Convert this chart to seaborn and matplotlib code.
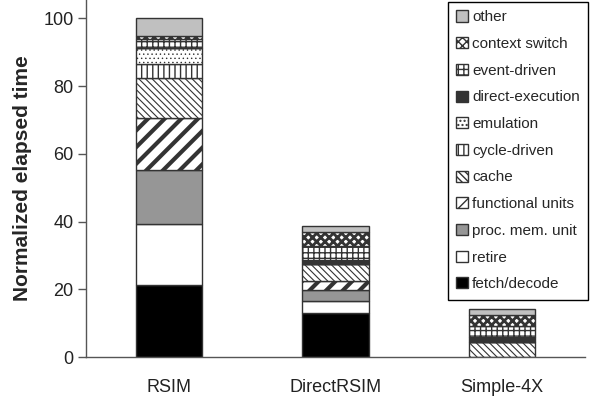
import matplotlib
matplotlib.use("Agg")
import matplotlib.pyplot as plt
import seaborn as sns
import numpy as np

categories = ["RSIM", "DirectRSIM", "Simple-4X"]
components = ["fetch/decode", "retire", "proc. mem. unit", "functional units",
              "cache", "cycle-driven", "emulation", "direct-execution",
              "event-driven", "context switch", "other"]
fetch_decode = [21.3, 13.1, 0.0]
retire = [18.0, 3.3, 0.0]
proc_mem_unit = [16.0, 3.4, 0.0]
functional_units = [15.3, 2.5, 0.0]
cache = [11.9, 5.2, 4.5]
cycle_driven = [3.9, 0.0, 0.0]
emulation = [4.9, 0.0, 0.0]
direct_execution = [0.0, 1.2, 1.5]
event_driven = [2.5, 4.1, 3.15]
context_switch = [1.0, 4.0, 3.25]
other = [5.2, 2.0, 1.8]
series = [fetch_decode, retire, proc_mem_unit, functional_units, cache,
          cycle_driven, emulation, direct_execution, event_driven,
          context_switch, other]

styles = {
    "fetch/decode": dict(facecolor="black", hatch=None),
    "retire": dict(facecolor="white", hatch=None),
    "proc. mem. unit": dict(facecolor="#969696", hatch=None),
    "functional units": dict(facecolor="white", hatch="//", hlw=3.0),
    "cache": dict(facecolor="white", hatch="\\\\\\\\\\", hlw=0.8),
    "cycle-driven": dict(facecolor="white", hatch="|||", hlw=1.0),
    "emulation": dict(facecolor="white", hatch="....", hlw=0.5),
    "direct-execution": dict(facecolor="#333333", hatch=None),
    "event-driven": dict(facecolor="white", hatch="+++", hlw=1.0),
    "context switch": dict(facecolor="white", hatch="xxxx", hlw=2.0),
    "other": dict(facecolor="#c0c0c0", hatch=None),
}

sns.set_style("white")
plt.rcParams["font.family"] = ["Liberation Sans", "DejaVu Sans"]

fig = plt.figure(figsize=(5.91, 4.04), dpi=100)
ax = fig.add_axes([86 / 591, 1 - 357 / 404, (585 - 86) / 591, 357 / 404])

bottom = np.zeros(len(categories))
for name, vals in zip(components, series):
    st = styles[name]
    with plt.rc_context({"hatch.linewidth": st.get("hlw", 1.0)}):
        sns.barplot(x=categories, y=vals, order=categories, ax=ax,
                    bottom=bottom.copy(), width=0.4, color=st["facecolor"],
                    hatch=st["hatch"], edgecolor="#333333", linewidth=1.0,
                    saturation=1, label=name, errorbar=None)
    bottom = bottom + np.array(vals)

if ax.get_legend() is not None:
    ax.get_legend().remove()

ax.set_xlim(-0.5, 2.5)
ax.set_ylim(0, 105.4)
ax.set_yticks([0, 20, 40, 60, 80, 100])
ax.set_ylabel("Normalized elapsed time", fontsize=15, fontweight="bold",
              labelpad=8)
ax.set_xlabel("")
for s in ["top", "right"]:
    ax.spines[s].set_visible(False)
for s in ["left", "bottom"]:
    ax.spines[s].set_color("#555555")
    ax.spines[s].set_linewidth(1.0)
ax.tick_params(axis="y", which="both", left=True, length=6, width=1,
               color="#555555", labelsize=13, labelcolor="#222222", pad=3)
ax.tick_params(axis="x", bottom=False, labelsize=13, labelcolor="#222222",
               pad=12)

handles, labels = ax.get_legend_handles_labels()
handles = handles[::-1]
labels = labels[::-1]
leg = fig.legend(handles, labels, loc="upper left",
                 bbox_to_anchor=(447.7 / 591, 1 - 2 / 404),
                 bbox_transform=fig.transFigure, fontsize=11,
                 frameon=True, fancybox=False, borderaxespad=0,
                 borderpad=0.55, labelspacing=0.83, handlelength=0.75,
                 handleheight=0.75, handletextpad=0.3)
leg.get_frame().set_edgecolor("black")
leg.get_frame().set_linewidth(1.0)
leg.get_frame().set_facecolor("white")
leg.get_frame().set_alpha(1)

fig.savefig("out.png", dpi=100)
